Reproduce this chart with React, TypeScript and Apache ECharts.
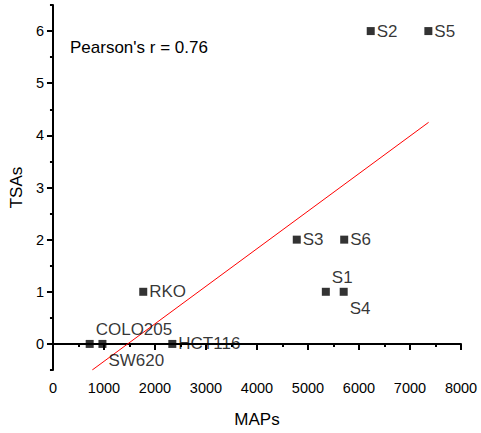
import React, { useEffect, useRef } from "react";
import * as echarts from "echarts";

const names = ["S1", "S2", "S3", "S4", "S5", "S6", "RKO", "COLO205", "SW620", "HCT116"];
const mapsValues = [5350, 6230, 4780, 5700, 7360, 5710, 1770, 720, 970, 2340];
const tsaValues = [1, 6, 2, 1, 6, 2, 1, 0, 0, 0];
const fitLineX = [770, 7365];
const fitLineY = [-0.5, 4.25];
const xMajorTicks = [0, 1000, 2000, 3000, 4000, 5000, 6000, 7000, 8000];
const yMajorTicks = [0, 1, 2, 3, 4, 5, 6];
const yMinorTicks = [-0.5, 0.5, 1.5, 2.5, 3.5, 4.5, 5.5, 6.5];
const pearsonText = "Pearson's r = 0.76";
const xName = "MAPs";
const yName = "TSAs";

const FONT = "'Liberation Sans', Arial, sans-serif";

export default function App() {
  const ref = useRef<HTMLDivElement>(null);
  useEffect(() => {
    if (!ref.current) return;
    const chart = echarts.init(ref.current, null, { renderer: "svg" });
    const above = new Set(["S1", "COLO205"]);
    const below = new Set(["S4", "SW620"]);
    const points = names.map((n, i) => {
      let label: any = { show: true, position: "right", distance: 2 };
      if (above.has(n)) label = { show: true, position: [10, -10.5], align: "left", verticalAlign: "middle" };
      if (below.has(n)) label = { show: true, position: [10, 20.5], align: "left", verticalAlign: "middle" };
      return { name: n, value: [mapsValues[i], tsaValues[i]], label };
    });
    const lineData = fitLineX.map((x, i) => [x, fitLineY[i]]);
    const axisLine = { show: true, lineStyle: { color: "#000", width: 2 } };
    chart.setOption({
      animation: false,
      grid: { left: 52, right: 20, top: 5, bottom: 63 },
      xAxis: {
        type: "value",
        min: 0,
        max: 8000,
        interval: 1000,
        name: xName,
        nameLocation: "middle",
        nameGap: 41,
        nameTextStyle: { fontSize: 17, color: "#000", fontFamily: FONT },
        axisLine,
        axisTick: { show: true, length: 6, lineStyle: { color: "#000", width: 2 }, customValues: xMajorTicks },
        minorTick: { show: true, splitNumber: 2, length: 3, lineStyle: { color: "#000", width: 2 } },
        axisLabel: {
          fontSize: 14.5,
          color: "#000",
          fontFamily: FONT,
          margin: 10,
          customValues: xMajorTicks,
          formatter: (v: number) => String(v),
        },
        splitLine: { show: false },
      },
      yAxis: [
        {
          type: "value",
          min: -0.5,
          max: 6.5,
          interval: 0.5,
          name: yName,
          nameLocation: "middle",
          nameGap: 27,
          nameTextStyle: { fontSize: 17, color: "#000", fontFamily: FONT },
          axisLine,
          axisTick: { show: true, length: 6, lineStyle: { color: "#000", width: 2 }, customValues: yMajorTicks },
          axisLabel: {
            fontSize: 14.5,
            color: "#000",
            fontFamily: FONT,
            margin: 9,
            customValues: yMajorTicks,
            formatter: (v: number) => String(v),
          },
          splitLine: { show: false },
        },
        {
          type: "value",
          min: -0.5,
          max: 6.5,
          interval: 0.5,
          position: "left",
          axisLine: { show: false },
          axisTick: { show: true, length: 3, lineStyle: { color: "#000", width: 2 }, customValues: yMinorTicks },
          axisLabel: { show: false },
          splitLine: { show: false },
        },
      ],
      series: [
        {
          type: "line",
          data: lineData,
          showSymbol: false,
          symbol: "none",
          lineStyle: { color: "#ff0000", width: 1 },
          z: 1,
        },
        {
          type: "scatter",
          data: points,
          symbol: "rect",
          symbolSize: 8,
          itemStyle: { color: "#000" },
          label: { formatter: "{b}", fontSize: 17, color: "#000", fontFamily: FONT },
          z: 2,
        },
      ],
      graphic: [
        {
          type: "text",
          left: 70,
          top: 39,
          style: { text: pearsonText, fontSize: 17, fill: "#000", fontFamily: FONT },
        },
      ],
    });
    return () => chart.dispose();
  }, []);
  return <div ref={ref} style={{ position: "absolute", left: 0, top: 0, width: 481, height: 433 }} />;
}
